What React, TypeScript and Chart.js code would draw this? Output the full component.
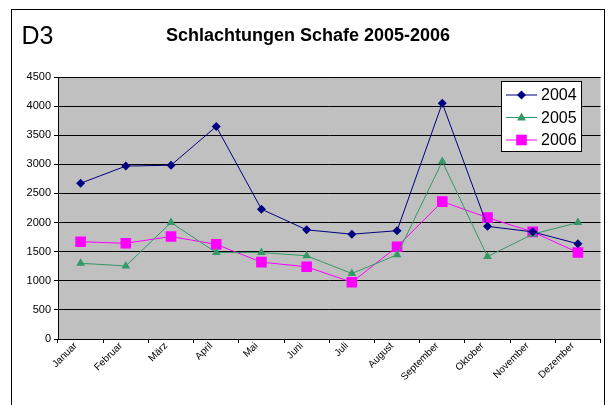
import React, { useEffect, useRef } from "react";
import { Chart, registerables } from "chart.js";

Chart.register(...registerables);

const months = ["Januar", "Februar", "März", "April", "Mai", "Juni", "Juli", "August", "September", "Oktober", "November", "Dezember"];
const values2004 = [2675, 2970, 2985, 3650, 2230, 1875, 1800, 1860, 4050, 1935, 1840, 1635];
const values2005 = [1300, 1255, 2000, 1485, 1485, 1430, 1125, 1445, 3050, 1415, 1800, 2000];
const values2006 = [1670, 1645, 1760, 1625, 1320, 1240, 975, 1585, 2360, 2085, 1840, 1485];
const seriesLabels = ["2004", "2005", "2006"];
const yTicksMax = 4500;
const yStep = 500;
const titleText = "Schlachtungen Schafe 2005-2006";
const cornerText = "D3";

const decorPlugin = {
  id: "decor",
  beforeDraw(chart: any) {
    const { ctx, chartArea } = chart;
    ctx.save();
    ctx.fillStyle = "#ffffff";
    ctx.fillRect(0, 0, chart.width, chart.height);
    ctx.fillStyle = "#c0c0c0";
    ctx.fillRect(chartArea.left, chartArea.top, chartArea.right - chartArea.left, chartArea.bottom - chartArea.top);
    ctx.restore();
  },
  afterDraw(chart: any) {
    const { ctx } = chart;
    ctx.save();
    ctx.strokeStyle = "#000000";
    ctx.lineWidth = 1;
    ctx.strokeRect(11.5, 9.5, 593, 420);
    ctx.fillStyle = "#000000";
    ctx.font = "25px Arial, 'Liberation Sans'";
    ctx.textAlign = "left";
    ctx.textBaseline = "alphabetic";
    ctx.fillText(cornerText, 21.5, 43.5);
    ctx.font = "bold 18px Arial, 'Liberation Sans'";
    ctx.textAlign = "center";
    ctx.fillText(titleText, 308, 40.5);
    const bx = 501.5, by = 81.5, bw = 80, bh = 70;
    ctx.fillStyle = "#ffffff";
    ctx.fillRect(bx, by, bw, bh);
    ctx.strokeStyle = "#000000";
    ctx.strokeRect(bx, by, bw, bh);
    ctx.font = "16px Arial, 'Liberation Sans'";
    ctx.textAlign = "left";
    ctx.textBaseline = "middle";
    chart.data.datasets.forEach((ds: any, i: number) => {
      const y = 95 + i * 22.5;
      ctx.strokeStyle = ds.borderColor;
      ctx.lineWidth = 1;
      ctx.beginPath();
      ctx.moveTo(506, y);
      ctx.lineTo(537, y);
      ctx.stroke();
      ctx.fillStyle = ds.backgroundColor;
      drawMarker(ctx, ds.pointStyle, 521.5, y, ds.pointRadius);
      ctx.fillStyle = "#000000";
      ctx.fillText(ds.label, 541, y + 1);
    });
    ctx.restore();
  },
};

function drawMarker(ctx: CanvasRenderingContext2D, style: string, x: number, y: number, r: number) {
  ctx.beginPath();
  if (style === "rectRot") {
    ctx.moveTo(x, y - r);
    ctx.lineTo(x + r, y);
    ctx.lineTo(x, y + r);
    ctx.lineTo(x - r, y);
  } else if (style === "triangle") {
    ctx.moveTo(x, y - r);
    ctx.lineTo(x + r * 0.87, y + r * 0.6);
    ctx.lineTo(x - r * 0.87, y + r * 0.6);
  } else {
    const s = r * Math.SQRT1_2;
    ctx.rect(x - s, y - s, 2 * s, 2 * s);
  }
  ctx.closePath();
  ctx.fill();
}

export default function App() {
  const ref = useRef<HTMLCanvasElement>(null);
  useEffect(() => {
    document.body.style.margin = "0";
    const chart = new Chart(ref.current as HTMLCanvasElement, {
      type: "line",
      data: {
        labels: months,
        datasets: [
          { label: seriesLabels[0], data: values2004, borderColor: "#000080", backgroundColor: "#000080", pointStyle: "rectRot", pointRadius: 4.5, borderWidth: 1, pointBorderWidth: 0 },
          { label: seriesLabels[1], data: values2005, borderColor: "#339966", backgroundColor: "#339966", pointStyle: "triangle", pointRadius: 5, borderWidth: 1, pointBorderWidth: 0 },
          { label: seriesLabels[2], data: values2006, borderColor: "#ff00ff", backgroundColor: "#ff00ff", pointStyle: "rect", pointRadius: 7.5, borderWidth: 1, pointBorderWidth: 0 },
        ],
      },
      options: {
        responsive: false,
        animation: false,
        layout: { padding: { left: 0, top: 77, right: 5, bottom: 0 } },
        plugins: { legend: { display: false }, title: { display: false }, tooltip: { enabled: false } },
        scales: {
          x: {
            offset: true,
            grid: { display: true, drawOnChartArea: false, offset: true, tickLength: 4, color: "#000000" },
            border: { color: "#000000" },
            ticks: { minRotation: 45, maxRotation: 45, autoSkip: false, color: "#000000", font: { family: "Arial, 'Liberation Sans'", size: 10 }, padding: -3, labelOffset: -5 },
            afterFit: (s: any) => { s.height = 66; },
          },
          y: {
            min: 0,
            max: yTicksMax,
            ticks: { stepSize: yStep, color: "#000000", font: { family: "Arial, 'Liberation Sans'", size: 11 }, padding: 3, callback: (v: any) => String(v) },
            grid: { color: "#000000", tickLength: 4 },
            border: { color: "#000000" },
            afterFit: (s: any) => { s.width = 58; },
          },
        },
      } as any,
      plugins: [decorPlugin],
    });
    return () => chart.destroy();
  }, []);
  return (
    <div style={{ position: "fixed", left: 0, top: 0 }}>
      <canvas ref={ref} width={608} height={405} />
    </div>
  );
}
